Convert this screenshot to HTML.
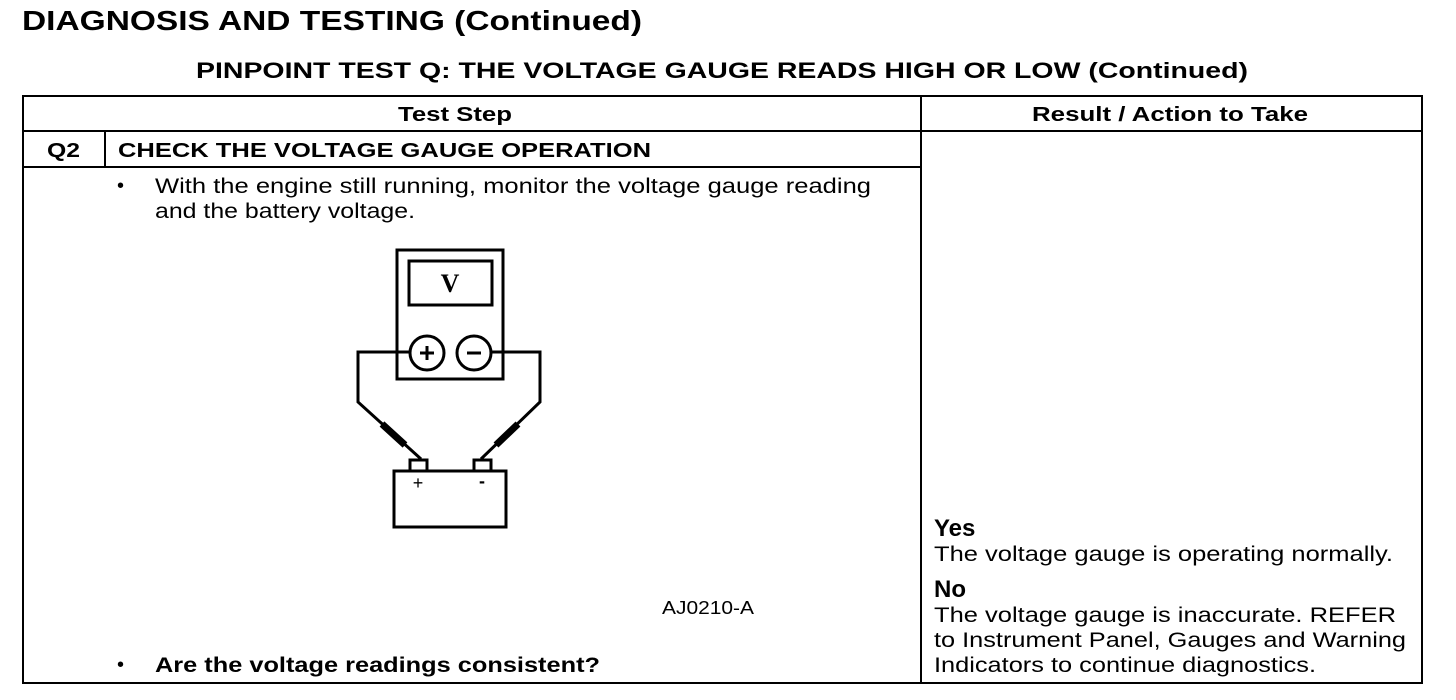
<!DOCTYPE html>
<html><head><meta charset="utf-8"><style>
html,body{margin:0;padding:0;background:#fff;width:1456px;height:700px;overflow:hidden}
text{font-family:"Liberation Sans",Arial,sans-serif;fill:#000}
.b{font-weight:bold}
</style></head><body>
<svg width="1456" height="700" viewBox="0 0 1456 700" xmlns="http://www.w3.org/2000/svg">
<text x="22" y="30" class="b" font-size="28" textLength="620" lengthAdjust="spacingAndGlyphs">DIAGNOSIS AND TESTING (Continued)</text>
<text x="196" y="78" class="b" font-size="22" textLength="1052" lengthAdjust="spacingAndGlyphs">PINPOINT TEST Q: THE VOLTAGE GAUGE READS HIGH OR LOW (Continued)</text>
<g stroke="#000" stroke-width="2" fill="none">
<rect x="23" y="96" width="1399" height="587"/>
<line x1="921" y1="96" x2="921" y2="683"/>
<line x1="23" y1="131" x2="1422" y2="131"/>
<line x1="23" y1="167" x2="921" y2="167"/>
<line x1="105" y1="131" x2="105" y2="167"/>
</g>
<text x="398" y="121" class="b" font-size="20" textLength="114" lengthAdjust="spacingAndGlyphs">Test Step</text>
<text x="1032" y="121" class="b" font-size="20" textLength="276" lengthAdjust="spacingAndGlyphs">Result / Action to Take</text>
<text x="47" y="157" class="b" font-size="20" textLength="33" lengthAdjust="spacingAndGlyphs">Q2</text>
<text x="118" y="157" class="b" font-size="20" textLength="533" lengthAdjust="spacingAndGlyphs">CHECK THE VOLTAGE GAUGE OPERATION</text>
<text x="117" y="192" font-size="20">•</text>
<text x="155" y="193" font-size="21" textLength="716" lengthAdjust="spacingAndGlyphs">With the engine still running, monitor the voltage gauge reading</text>
<text x="155" y="218" font-size="21" textLength="260" lengthAdjust="spacingAndGlyphs">and the battery voltage.</text>
<!-- diagram -->
<g stroke="#000" stroke-width="3" fill="none">
<rect x="397" y="250" width="106" height="129"/>
<rect x="409" y="261" width="83" height="44"/>
<circle cx="427" cy="353" r="17" fill="#fff"/>
<circle cx="474" cy="353" r="17" fill="#fff"/>
<polyline points="410,352 358,352 358,402 421,459"/>
<polyline points="491,352 540,352 540,402 481,459"/>
<rect x="410" y="460" width="17" height="11"/>
<rect x="474" y="460" width="17" height="11"/>
<rect x="394" y="471" width="112" height="56"/>
</g>
<g stroke="#000" stroke-width="7">
<line x1="382" y1="424" x2="405" y2="445"/>
<line x1="518" y1="424" x2="496" y2="445"/>
</g>
<g stroke="#000" stroke-width="3">
<line x1="420" y1="353" x2="434" y2="353"/><line x1="427" y1="346" x2="427" y2="360"/>
<line x1="467" y1="353" x2="481" y2="353"/>
</g>
<text x="450" y="292" class="b" font-size="26" font-family="Liberation Serif" text-anchor="middle" style="font-family:'Liberation Serif',serif">V</text>
<text x="418" y="489" font-size="18" text-anchor="middle">+</text>
<text x="482" y="487" font-size="18" class="b" text-anchor="middle">-</text>
<text x="662" y="614" font-size="18" textLength="92" lengthAdjust="spacingAndGlyphs">AJ0210-A</text>
<text x="117" y="671" font-size="20">•</text>
<text x="155" y="672" class="b" font-size="21" textLength="445" lengthAdjust="spacingAndGlyphs">Are the voltage readings consistent?</text>
<!-- results -->
<text x="934" y="536" class="b" font-size="24">Yes</text>
<text x="934" y="561" font-size="21" textLength="459" lengthAdjust="spacingAndGlyphs">The voltage gauge is operating normally.</text>
<text x="934" y="597" class="b" font-size="24">No</text>
<text x="934" y="622" font-size="21" textLength="462" lengthAdjust="spacingAndGlyphs">The voltage gauge is inaccurate. REFER</text>
<text x="934" y="647" font-size="21" textLength="472" lengthAdjust="spacingAndGlyphs">to Instrument Panel, Gauges and Warning</text>
<text x="934" y="672" font-size="21" textLength="382" lengthAdjust="spacingAndGlyphs">Indicators to continue diagnostics.</text>
</svg>
</body></html>
